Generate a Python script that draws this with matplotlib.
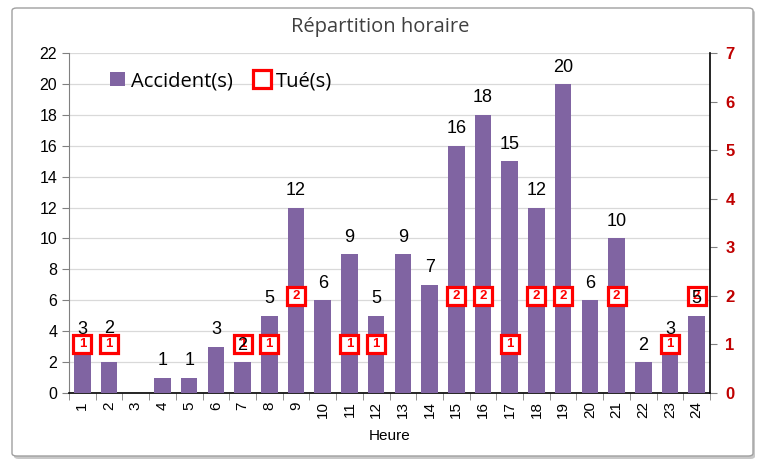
import matplotlib
matplotlib.use("Agg")
import matplotlib.pyplot as plt
from matplotlib.patches import FancyBboxPatch
import numpy as np

hours = [str(h) for h in range(1, 25)]
accidents = [3, 2, 0, 1, 1, 3, 2, 5, 12, 6, 9, 5, 9, 7, 16, 18, 15, 12, 20, 6, 10, 2, 3, 5]
killed = [1, 1, None, None, None, None, 1, 1, 2, None, 1, 1, None, None, 2, 2, 1, 2, 2, None, 2, None, 1, 2]

bar_color = "#8064A2"
red = "#FF0000"
dark_red = "#C00000"

fig = plt.figure(figsize=(7.61, 4.61), dpi=100)

# outer frame with shadow
shadow = FancyBboxPatch((14 / 761, 1 - 459 / 461), 741 / 761, 449 / 461,
                        boxstyle="round,pad=0,rounding_size=0.006",
                        transform=fig.transFigure, facecolor="#C8C8C8",
                        edgecolor="none", zorder=0)
fig.patches.append(shadow)
frame = FancyBboxPatch((12 / 761, 1 - 456 / 461), 741 / 761, 448 / 461,
                       boxstyle="round,pad=0,rounding_size=0.006",
                       transform=fig.transFigure, facecolor="white",
                       edgecolor="#A0A0A0", linewidth=1.0, zorder=0.5)
fig.patches.append(frame)

ax = fig.add_axes([69 / 761, 1 - 393 / 461, (710 - 69) / 761, (393 - 53) / 461])
ax.set_zorder(2)
ax.patch.set_visible(False)

x = np.arange(len(hours))
ax.bar(x, accidents, width=0.62, color=bar_color, zorder=3, label="Accident(s)")

ax.set_xlim(-0.5, len(hours) - 0.5)
ax.set_ylim(0, 22)
ax.set_yticks(np.arange(0, 23, 2))
ax.tick_params(axis="y", labelsize=11.5, length=5, color="#808080", direction="out")
for lbl in ax.get_yticklabels():
    lbl.set_family("Liberation Sans")
ax.set_xticks(x)
ax.set_xticklabels(hours, rotation=90, fontsize=11, family="Liberation Sans")
ax.set_xticks(np.arange(-0.5, len(hours), 1), minor=True)
ax.tick_params(axis="x", which="major", length=0, pad=6)
ax.tick_params(axis="x", which="minor", length=5, color="#808080", direction="out")
ax.grid(axis="y", color="#D9D9D9", linewidth=0.9, zorder=0)
ax.set_axisbelow(True)
ax.spines["top"].set_visible(False)
ax.spines["right"].set_visible(False)
ax.spines["left"].set_color("#808080")
ax.spines["bottom"].set_color("black")
ax.spines["bottom"].set_linewidth(1.2)
ax.set_xlabel("Heure", fontsize=11, family="Liberation Sans", labelpad=8)

ax2 = ax.twinx()
ax2.set_zorder(3)
ax2.set_ylim(0, 7)
ax2.set_yticks(range(0, 8))
ax2.tick_params(axis="y", labelsize=12, labelcolor=dark_red, length=5,
                color="#808080", direction="out", pad=6)
for lbl in ax2.get_yticklabels():
    lbl.set_family("Liberation Sans")
    lbl.set_fontweight("bold")
for s in ["top", "left", "bottom"]:
    ax2.spines[s].set_visible(False)
ax2.spines["right"].set_color("black")
ax2.spines["right"].set_linewidth(1.2)

kx = [xi for xi, k in zip(x, killed) if k is not None]
ky = [k for k in killed if k is not None]
ax2.plot(kx, ky, linestyle="none", marker="s", markersize=12.5, markerfacecolor="white",
         markeredgecolor=red, markeredgewidth=2.3, zorder=5, label="Tué(s)")
for xi, k in zip(kx, ky):
    ax2.text(xi, k, str(k), ha="center", va="center", fontsize=9.5, fontweight="bold",
             color=red, family="Liberation Sans", zorder=7)

# accident labels drawn on top of the markers (as in the reference)
label_nudge = {1: 12}
for xi, v in zip(x, accidents):
    if v > 0:
        ax2.annotate(str(v), (xi, v), xycoords=ax.transData,
                     xytext=(0, 6 + label_nudge.get(int(xi), 0)), textcoords="offset points",
                     ha="center", va="bottom", fontsize=13, family="Liberation Sans",
                     color="black", zorder=8)

h1, l1 = ax.get_legend_handles_labels()
h2, l2 = ax2.get_legend_handles_labels()
ax2.legend(h1 + h2, l1 + l2, loc="upper left", bbox_to_anchor=(0.035, 1.0),
           ncol=2, frameon=False, handlelength=0.75, handleheight=0.75,
           handletextpad=0.3, columnspacing=1.1, prop={"family": "Open Sans", "size": 14.5})

fig.text(0.5, 1 - 27 / 461, "Répartition horaire", ha="center", va="center",
         fontsize=14.5, color="#404040", family="Open Sans")

fig.savefig("out.png", dpi=100)
